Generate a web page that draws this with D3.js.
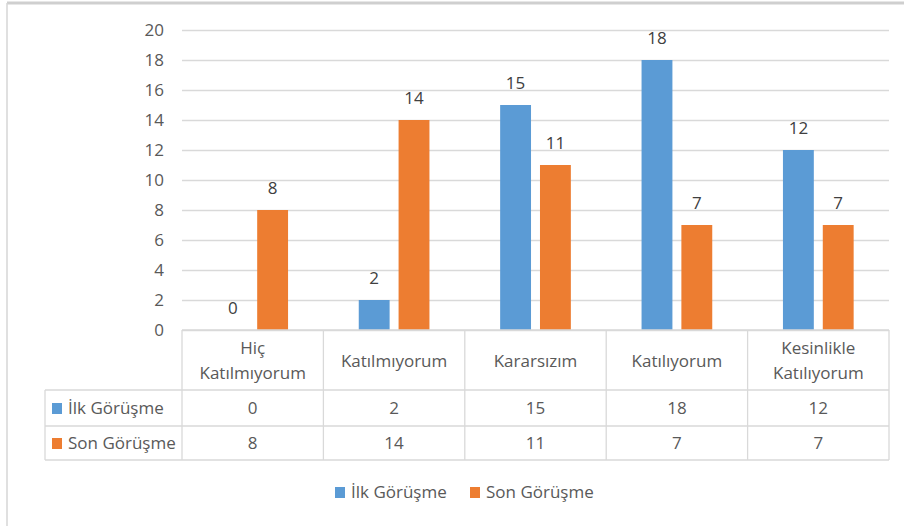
<!DOCTYPE html>
<html>
<head>
<meta charset="utf-8">
<script src="https://cdn.jsdelivr.net/npm/d3@7"></script>
<style>
  body { margin: 0; background: #fff; }
  text { font-family: "Open Sans", sans-serif; }
</style>
</head>
<body>
<div id="chart"></div>
<script>
// chart data
var vCategories = ["Hiç Katılmıyorum", "Katılmıyorum", "Kararsızım", "Katılıyorum", "Kesinlikle Katılıyorum"];
var vCategoryLines = [["Hiç", "Katılmıyorum"], ["Katılmıyorum"], ["Kararsızım"], ["Katılıyorum"], ["Kesinlikle", "Katılıyorum"]];
var vSeriesNames = ["İlk Görüşme", "Son Görüşme"];
var vIlk = [0, 2, 15, 18, 12];
var vSon = [8, 14, 11, 7, 7];
var vYTicks = [0, 2, 4, 6, 8, 10, 12, 14, 16, 18, 20];

var vColors = ["#5B9BD5", "#ED7D31"];
var vSeries = [vIlk, vSon];

var vWidth = 904, vHeight = 526;
var vPlot = { mLeft: 182, mRight: 889, mTop: 30, mBottom: 330 };
var vRows = [330, 390, 426, 460];
var vKeyLeft = 45;

var svg = d3.select("#chart")
    .append("svg")
    .attr("width", vWidth)
    .attr("height", vHeight);

// outer frame (only top and left edges show)
svg.append("line").attr("x1", 7).attr("x2", vWidth).attr("y1", 3).attr("y2", 3)
    .attr("stroke", "#cfcfcf").attr("stroke-width", 3);
svg.append("line").attr("x1", 7).attr("x2", 7).attr("y1", 3).attr("y2", vHeight)
    .attr("stroke", "#d6d6d6").attr("stroke-width", 1.5);

var vY = d3.scaleLinear()
    .domain([0, 20])
    .range([vPlot.mBottom, vPlot.mTop]);

var vX0 = d3.scaleBand()
    .domain(vCategories)
    .range([vPlot.mLeft, vPlot.mRight])
    .paddingInner(0.5)
    .paddingOuter(0.25);

var vX1 = d3.scaleBand()
    .domain(vSeriesNames)
    .range([0, vX0.bandwidth()])
    .paddingInner(0.225);

// y axis with gridlines
var vAxis = svg.append("g")
    .attr("transform", "translate(" + vPlot.mLeft + ",0)")
    .call(d3.axisLeft(vY)
        .tickValues(vYTicks)
        .tickSizeInner(-(vPlot.mRight - vPlot.mLeft))
        .tickSizeOuter(0)
        .tickPadding(18));
vAxis.select(".domain").remove();
vAxis.selectAll(".tick line").attr("stroke", "#d9d9d9").attr("stroke-width", 1.3);
vAxis.selectAll(".tick text")
    .attr("fill", "#595959")
    .style("font-size", "17px")
    .style("font-family", "'Open Sans', sans-serif");

// bars
vSeries.forEach(function (aValues, aIdx) {
    svg.append("g")
        .selectAll("rect")
        .data(aValues)
        .enter()
        .append("rect")
        .attr("x", function (d, i) { return vX0(vCategories[i]) + vX1(vSeriesNames[aIdx]); })
        .attr("y", function (d) { return vY(d); })
        .attr("width", vX1.bandwidth())
        .attr("height", function (d) { return vY(0) - vY(d); })
        .attr("fill", vColors[aIdx]);

    svg.append("g")
        .selectAll("text")
        .data(aValues)
        .enter()
        .append("text")
        .attr("x", function (d, i) { return vX0(vCategories[i]) + vX1(vSeriesNames[aIdx]) + vX1.bandwidth() / 2; })
        .attr("y", function (d) { return vY(d) - 16; })
        .attr("text-anchor", "middle")
        .attr("fill", "#404040")
        .style("font-size", "17px")
        .text(function (d) { return d; });
});

// data table lines
var vTable = svg.append("g").attr("stroke", "#d9d9d9").attr("stroke-width", 1.3);
var vColEdges = vCategories.map(function (c) { return vX0(c) - vX0.step() * vX0.paddingInner() / 2 - vX0.bandwidth() * 0 ; });
vColEdges = vCategories.map(function (c, i) { return vPlot.mLeft + i * vX0.step(); });
vColEdges.push(vPlot.mRight);

vColEdges.forEach(function (aX) {
    vTable.append("line").attr("x1", aX).attr("x2", aX).attr("y1", vRows[0]).attr("y2", vRows[3]);
});
vTable.append("line").attr("x1", vPlot.mLeft).attr("x2", vPlot.mRight).attr("y1", vRows[0]).attr("y2", vRows[0]);
[vRows[1], vRows[2], vRows[3]].forEach(function (aY) {
    vTable.append("line").attr("x1", vKeyLeft).attr("x2", vPlot.mRight).attr("y1", aY).attr("y2", aY);
});
vTable.append("line").attr("x1", vKeyLeft).attr("x2", vKeyLeft).attr("y1", vRows[1]).attr("y2", vRows[3]);

// category labels
vCategoryLines.forEach(function (aLines, i) {
    var vCx = vX0(vCategories[i]) + vX0.bandwidth() / 2;
    var vStart = aLines.length === 1 ? 367 : 354;
    aLines.forEach(function (aLine, j) {
        svg.append("text")
            .attr("x", vCx)
            .attr("y", vStart + j * 25)
            .attr("text-anchor", "middle")
            .attr("fill", "#595959")
            .style("font-size", "17px")
            .text(aLine);
    });
});

// table rows
vSeries.forEach(function (aValues, aIdx) {
    var vBase = (vRows[aIdx + 1] + vRows[aIdx + 2]) / 2 + 6;
    svg.append("rect")
        .attr("x", 52).attr("y", vBase - 11)
        .attr("width", 10).attr("height", 11)
        .attr("fill", vColors[aIdx]);
    svg.append("text")
        .attr("x", 68).attr("y", vBase)
        .attr("fill", "#595959")
        .style("font-size", "17px")
        .text(vSeriesNames[aIdx]);
    svg.append("g")
        .selectAll("text")
        .data(aValues)
        .enter()
        .append("text")
        .attr("x", function (d, i) { return vX0(vCategories[i]) + vX0.bandwidth() / 2; })
        .attr("y", vBase)
        .attr("text-anchor", "middle")
        .attr("fill", "#595959")
        .style("font-size", "17px")
        .text(function (d) { return d; });
});

// legend
var vLegendX = [335, 470];
vSeriesNames.forEach(function (aName, aIdx) {
    var vG = svg.append("g").attr("transform", "translate(" + vLegendX[aIdx] + ",498)");
    vG.append("rect").attr("x", 0).attr("y", -11).attr("width", 10).attr("height", 11).attr("fill", vColors[aIdx]);
    vG.append("text").attr("x", 16).attr("y", 0)
        .attr("fill", "#595959")
        .style("font-size", "17px")
        .text(aName);
});
</script>
</body>
</html>
